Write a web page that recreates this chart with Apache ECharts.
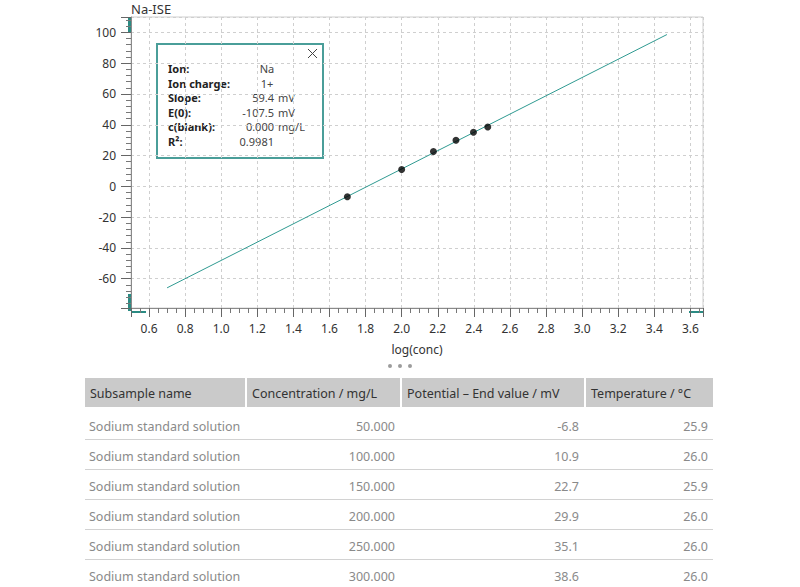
<!DOCTYPE html>
<html>
<head>
<meta charset="utf-8">
<script src="https://cdn.jsdelivr.net/npm/echarts@6/dist/echarts.min.js"></script>
<style>
  body { margin: 0; background: #fff; font-family: "Noto Sans", "Open Sans", sans-serif; }
  #chart { position: absolute; left: 0; top: 0; width: 800px; height: 360px; }
  .dot { position: absolute; top: 364px; width: 4px; height: 4px; border-radius: 2px; background: #9c9c9c; }
  #table { position: absolute; left: 85px; top: 378px; width: 628px; font-size: 12.5px; }
  .hd { position: absolute; top: 0; height: 29px; line-height: 32px; background: #cacaca; color: #333; padding-left: 5px; box-sizing: border-box; }
  .row { position: absolute; left: 0; width: 628px; height: 30px; border-bottom: 1px solid #d2d2d2; box-sizing: border-box; }
  .cell { position: absolute; top: 0; height: 29px; line-height: 33px; color: #8a8a8a; box-sizing: border-box; white-space: nowrap; }
</style>
</head>
<body>
<div id="chart"></div>
<div class="dot" style="left:388px"></div>
<div class="dot" style="left:398px"></div>
<div class="dot" style="left:408px"></div>
<div id="table"></div>
<script>
(function() {
  // calibration standards
  var sampleNames = ["Sodium standard solution", "Sodium standard solution", "Sodium standard solution",
                     "Sodium standard solution", "Sodium standard solution", "Sodium standard solution"];
  var concentration = [50, 100, 150, 200, 250, 300];
  var potential = [-6.8, 10.9, 22.7, 29.9, 35.1, 38.6];
  var temperature = [25.9, 26.0, 25.9, 26.0, 26.0, 26.0];

  // fitted calibration line
  var fitLine = [[0.70, -65.9], [3.47, 98.6]];

  var infoLabels = ["Ion:", "Ion charge:", "Slope:", "E(0):", "c(blank):", "R\u00b2:"];
  var infoValues = ["Na", "1+", "59.4", "-107.5", "0.000", "0.9981"];
  var infoUnits = ["", "", "mV", "mV", "mg/L", ""];

  var headers = ["Subsample name", "Concentration / mg/L", "Potential \u2013 End value / mV", "Temperature / \u00b0C"];

  var points = concentration.map(function(c, i) {
    return [Math.log10(c), potential[i]];
  });

  var font = '"Noto Sans", "Open Sans", sans-serif';
  var teal = "#2b8b83";

  // info box
  var boxChildren = [{
    type: "rect",
    shape: { x: 0, y: 0, width: 166, height: 114 },
    style: { fill: "#fff", stroke: "#4a9e99", lineWidth: 2 }
  }, {
    type: "line",
    shape: { x1: 151, y1: 5, x2: 160, y2: 14 },
    style: { stroke: "#444", lineWidth: 1 }
  }, {
    type: "line",
    shape: { x1: 160, y1: 5, x2: 151, y2: 14 },
    style: { stroke: "#444", lineWidth: 1 }
  }];
  var rowY = [24.5, 39, 53.5, 68, 82.5, 97];
  infoLabels.forEach(function(lbl, i) {
    boxChildren.push({
      type: "text", x: 11, y: rowY[i],
      style: { text: lbl, font: "bold 11px " + font, fill: "#222", verticalAlign: "middle" }
    });
    var center = i < 2;
    boxChildren.push({
      type: "text", x: center ? 110 : 117, y: rowY[i],
      style: { text: infoValues[i], font: "11px " + font, fill: "#444",
               align: center ? "center" : "right", verticalAlign: "middle" }
    });
    if (infoUnits[i]) {
      boxChildren.push({
        type: "text", x: 121, y: rowY[i],
        style: { text: infoUnits[i], font: "11px " + font, fill: "#444", verticalAlign: "middle" }
      });
    }
  });

  var myChart = echarts.init(document.getElementById("chart"), null, { renderer: "svg" });
  var option = {
    animation: false,
    textStyle: { fontFamily: font },
    title: {
      text: "Na-ISE",
      left: 131,
      top: 2,
      padding: 0,
      textStyle: { fontSize: 13, fontWeight: "normal", color: "#333", fontFamily: font }
    },
    grid: {
      left: 131,
      top: 17,
      right: 97,
      bottom: 49,
      show: true,
      borderColor: "#cfcfcf",
      borderWidth: 1
    },
    xAxis: {
      type: "value",
      min: 0.5,
      max: 3.67,
      splitNumber: 15,
      name: "log(conc)",
      nameLocation: "middle",
      nameGap: 35,
      nameTextStyle: { color: "#333", fontSize: 12 },
      axisLine: { show: true, onZero: false, lineStyle: { color: "#8a8a8a" } },
      axisTick: { show: true, length: 9, lineStyle: { color: "#666" } },
      minorTick: { show: true, splitNumber: 4, length: 5, lineStyle: { color: "#777" } },
      axisLabel: {
        margin: 14, color: "#333", fontSize: 12,
        formatter: function(v) {
          return Math.abs(v * 5 - Math.round(v * 5)) < 1e-6 ? v.toFixed(1) : "";
        }
      },
      splitLine: { show: true, lineStyle: { color: "#cfcfcf", type: [3, 3] } }
    },
    yAxis: {
      type: "value",
      min: -79,
      max: 110,
      splitNumber: 10,
      axisLine: { show: true, onZero: false, lineStyle: { color: "#8a8a8a" } },
      axisTick: { show: true, length: 10, lineStyle: { color: "#666" } },
      minorTick: { show: true, splitNumber: 5, length: 5, lineStyle: { color: "#777" } },
      axisLabel: {
        margin: 15, color: "#333", fontSize: 12,
        formatter: function(v) {
          return Math.abs(v % 20) < 1e-6 ? String(v) : "";
        }
      },
      splitLine: { show: true, lineStyle: { color: "#cfcfcf", type: [3, 3] } }
    },
    graphic: [
      { type: "rect", shape: { x: 128, y: 18, width: 3, height: 15 }, style: { fill: teal } },
      { type: "rect", shape: { x: 128, y: 294, width: 3, height: 17 }, style: { fill: teal } },
      { type: "rect", shape: { x: 131, y: 311, width: 15, height: 2 }, style: { fill: teal } },
      { type: "rect", shape: { x: 689, y: 311, width: 15, height: 2 }, style: { fill: teal } },
      { type: "group", x: 157, y: 44, children: boxChildren }
    ],
    series: [
      {
        type: "line",
        data: fitLine,
        symbol: "none",
        lineStyle: { color: "#2f9a91", width: 1 },
        z: 2
      },
      {
        type: "scatter",
        data: points,
        symbolSize: 7,
        itemStyle: { color: "#000" },
        z: 3
      }
    ]
  };
  myChart.setOption(option);

  // results table
  var table = document.getElementById("table");
  var colLeft = [0, 162, 317, 501];
  var colWidth = [160, 153, 182, 127];
  headers.forEach(function(h, i) {
    var d = document.createElement("div");
    d.className = "hd";
    d.style.left = colLeft[i] + "px";
    d.style.width = colWidth[i] + "px";
    d.textContent = h;
    table.appendChild(d);
  });
  sampleNames.forEach(function(name, r) {
    var row = document.createElement("div");
    row.className = "row";
    row.style.top = (32 + 30 * r) + "px";
    var vals = [name, concentration[r].toFixed(3), potential[r].toFixed(1), temperature[r].toFixed(1)];
    vals.forEach(function(v, i) {
      var c = document.createElement("div");
      c.className = "cell";
      c.style.left = colLeft[i] + "px";
      c.style.width = colWidth[i] + "px";
      if (i === 0) {
        c.style.paddingLeft = "4px";
      } else {
        c.style.textAlign = "right";
        c.style.paddingRight = "5px";
      }
      c.textContent = v;
      row.appendChild(c);
    });
    table.appendChild(row);
  });

  window.addEventListener("resize", function() {
    myChart.resize();
  });
})();
</script>
</body>
</html>
